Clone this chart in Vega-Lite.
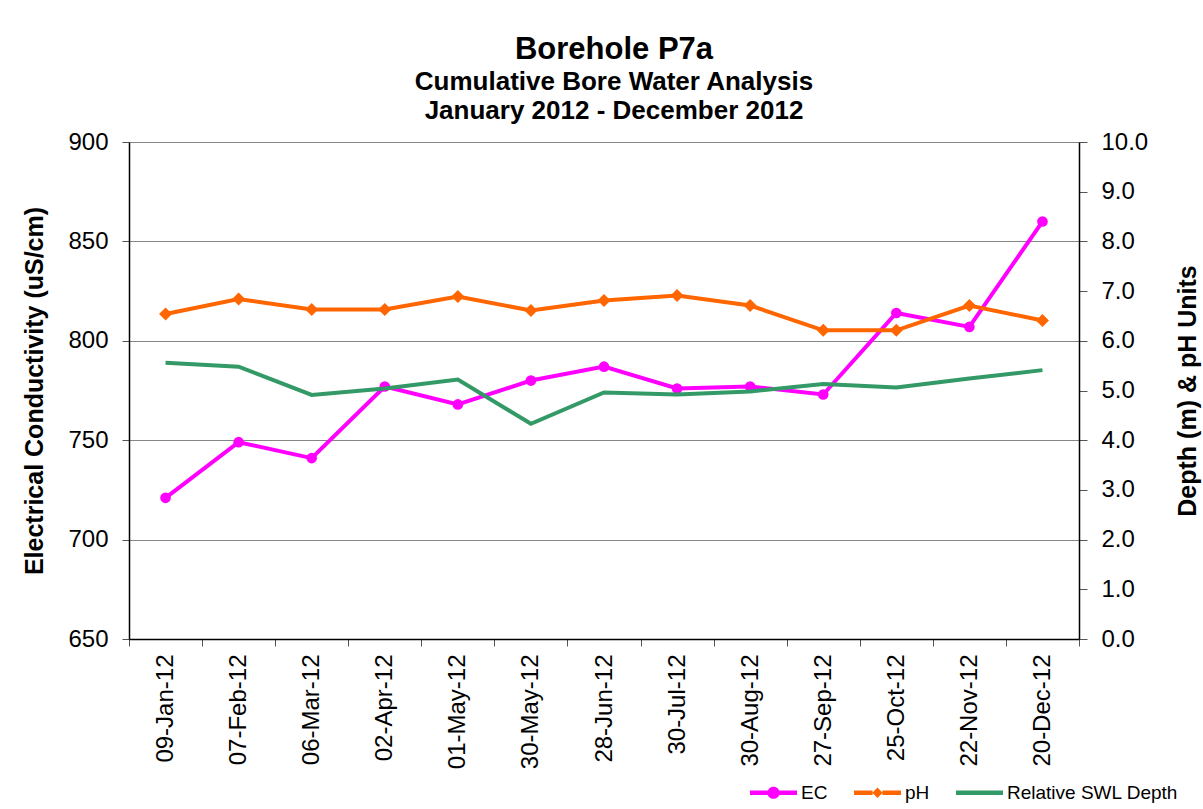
{
  "$schema": "https://vega.github.io/schema/vega-lite/v6.json",
  "width": 950,
  "height": 497,
  "padding": {"left": 22, "top": 34, "right": 5, "bottom": 0},
  "background": "white",
  "title": {
    "text": "Borehole P7a",
    "subtitle": ["Cumulative Bore Water Analysis", "January 2012 - December 2012"],
    "fontSize": 31,
    "fontWeight": "bold",
    "color": "black",
    "subtitleFontSize": 26,
    "subtitleFontWeight": "bold",
    "subtitleColor": "black",
    "subtitleLineHeight": 29,
    "subtitlePadding": 3,
    "anchor": "middle",
    "offset": 5,
    "dx": 10
  },
  "config": {
    "font": "Liberation Sans",
    "view": {"stroke": null},
    "axis": {"domainColor": "black", "tickColor": "#555555", "labelColor": "black", "titleColor": "black", "domainWidth": 1.5}
  },
  "data": {
    "values": [
      {"date": "09-Jan-12", "series": "EC", "value": 721},
      {"date": "07-Feb-12", "series": "EC", "value": 749},
      {"date": "06-Mar-12", "series": "EC", "value": 741},
      {"date": "02-Apr-12", "series": "EC", "value": 777},
      {"date": "01-May-12", "series": "EC", "value": 768},
      {"date": "30-May-12", "series": "EC", "value": 780},
      {"date": "28-Jun-12", "series": "EC", "value": 787},
      {"date": "30-Jul-12", "series": "EC", "value": 776},
      {"date": "30-Aug-12", "series": "EC", "value": 777},
      {"date": "27-Sep-12", "series": "EC", "value": 773},
      {"date": "25-Oct-12", "series": "EC", "value": 814},
      {"date": "22-Nov-12", "series": "EC", "value": 807},
      {"date": "20-Dec-12", "series": "EC", "value": 860},
      {"date": "09-Jan-12", "series": "pH", "value": 6.54},
      {"date": "07-Feb-12", "series": "pH", "value": 6.84},
      {"date": "06-Mar-12", "series": "pH", "value": 6.63},
      {"date": "02-Apr-12", "series": "pH", "value": 6.63},
      {"date": "01-May-12", "series": "pH", "value": 6.89},
      {"date": "30-May-12", "series": "pH", "value": 6.61},
      {"date": "28-Jun-12", "series": "pH", "value": 6.81},
      {"date": "30-Jul-12", "series": "pH", "value": 6.91},
      {"date": "30-Aug-12", "series": "pH", "value": 6.71},
      {"date": "27-Sep-12", "series": "pH", "value": 6.21},
      {"date": "25-Oct-12", "series": "pH", "value": 6.21},
      {"date": "22-Nov-12", "series": "pH", "value": 6.71},
      {"date": "20-Dec-12", "series": "pH", "value": 6.41},
      {"date": "09-Jan-12", "series": "Relative SWL Depth", "value": 5.56},
      {"date": "07-Feb-12", "series": "Relative SWL Depth", "value": 5.48},
      {"date": "06-Mar-12", "series": "Relative SWL Depth", "value": 4.91},
      {"date": "02-Apr-12", "series": "Relative SWL Depth", "value": 5.04},
      {"date": "01-May-12", "series": "Relative SWL Depth", "value": 5.22},
      {"date": "30-May-12", "series": "Relative SWL Depth", "value": 4.33},
      {"date": "28-Jun-12", "series": "Relative SWL Depth", "value": 4.96},
      {"date": "30-Jul-12", "series": "Relative SWL Depth", "value": 4.92},
      {"date": "30-Aug-12", "series": "Relative SWL Depth", "value": 4.98},
      {"date": "27-Sep-12", "series": "Relative SWL Depth", "value": 5.13},
      {"date": "25-Oct-12", "series": "Relative SWL Depth", "value": 5.06},
      {"date": "22-Nov-12", "series": "Relative SWL Depth", "value": 5.24},
      {"date": "20-Dec-12", "series": "Relative SWL Depth", "value": 5.41}
    ]
  },
  "encoding": {
    "x": {
      "field": "date",
      "type": "ordinal",
      "sort": ["09-Jan-12", "07-Feb-12", "06-Mar-12", "02-Apr-12", "01-May-12", "30-May-12", "28-Jun-12", "30-Jul-12", "30-Aug-12", "27-Sep-12", "25-Oct-12", "22-Nov-12", "20-Dec-12"],
      "bandPosition": 0.5,
      "scale": {"type": "band", "paddingInner": 0, "paddingOuter": 0},
      "axis": {"title": null, "labelAngle": 270, "labelFontSize": 24, "labelPadding": 8, "tickSize": 7, "tickBand": "extent", "grid": false}
    }
  },
  "layer": [
    {
      "transform": [{"filter": "datum.series === 'EC'"}],
      "mark": {"type": "line", "strokeWidth": 4, "point": {"filled": true, "size": 113}},
      "encoding": {
        "y": {
          "field": "value",
          "type": "quantitative",
          "scale": {"domain": [650, 900], "zero": false, "nice": false},
          "axis": {"title": "Electrical Conductivity (uS/cm)", "values": [650, 700, 750, 800, 850, 900], "grid": true, "gridColor": "#868686", "gridWidth": 1.2, "labelFontSize": 24, "labelPadding": 14, "tickSize": 7, "titleFontSize": 25, "titleFontWeight": "bold", "titlePadding": 20}
        },
        "color": {
          "field": "series",
          "type": "nominal",
          "scale": {"domain": ["EC", "pH", "Relative SWL Depth"], "range": ["#FF00FF", "#FF6600", "#339966"]},
          "legend": {
            "title": null,
            "orient": "none",
            "legendX": 621,
            "legendY": 627,
            "direction": "horizontal",
            "padding": 0,
            "labelFontSize": 19,
            "labelColor": "black",
            "labelOffset": 4,
            "labelLimit": 400,
            "columnPadding": 26,
            "symbolSize": 2209,
            "encode": {
              "symbols": {
                "update": {
                  "shape": {"signal": "datum.value === 'EC' ? 'M-1,-0.096L-0.25,-0.096L-0.25,0.096L-1,0.096Z M0.25,-0.096L1,-0.096L1,0.096L0.25,0.096Z M-0.26,0A0.26,0.26 0 1,1 0.26,0A0.26,0.26 0 1,1 -0.26,0Z' : datum.value === 'pH' ? 'M-1,-0.096L-0.21,-0.096L-0.21,0.096L-1,0.096Z M0.21,-0.096L1,-0.096L1,0.096L0.21,0.096Z M0,-0.22L0.22,0L0,0.22L-0.22,0Z' : 'M-1,-0.096L1,-0.096L1,0.096L-1,0.096Z'"},
                  "fill": {"scale": "color", "field": "value"},
                  "stroke": {"value": "transparent"},
                  "strokeWidth": {"value": 0},
                  "opacity": {"value": 1}
                }
              }
            }
          }
        }
      }
    },
    {
      "encoding": {
        "y": {
          "field": "value",
          "type": "quantitative",
          "scale": {"domain": [0, 10], "nice": false},
          "axis": {"orient": "right", "title": "Depth (m) & pH Units", "values": [0, 1, 2, 3, 4, 5, 6, 7, 8, 9, 10], "format": ".1f", "grid": false, "labelFontSize": 24, "labelPadding": 14, "tickSize": 8, "titleFontSize": 25, "titleFontWeight": "bold", "titleAngle": 270, "titleBaseline": "top", "titlePadding": 28}
        },
        "color": {"field": "series", "type": "nominal"}
      },
      "layer": [
        {
          "transform": [{"filter": "datum.series === 'pH'"}],
          "mark": {"type": "line", "strokeWidth": 4, "point": {"filled": true, "shape": "diamond", "size": 169}}
        },
        {
          "transform": [{"filter": "datum.series === 'Relative SWL Depth'"}],
          "mark": {"type": "line", "strokeWidth": 4}
        }
      ]
    }
  ],
  "resolve": {"scale": {"y": "independent"}}
}
